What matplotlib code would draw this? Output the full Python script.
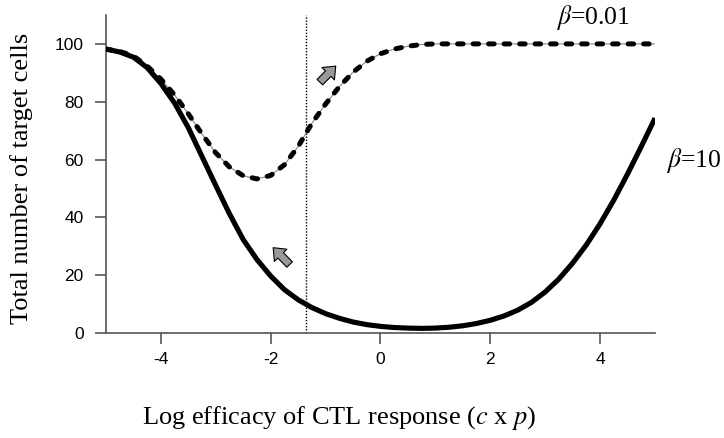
import numpy as np
import matplotlib
matplotlib.use('Agg')
from matplotlib import pyplot as plt
from matplotlib.patches import FancyArrowPatch, ArrowStyle

# log efficacy of the CTL response, log10(c x p)
log_eff = [-5.0, -4.75, -4.5, -4.25, -4.0, -3.75, -3.5, -3.25, -3.0, -2.75,
           -2.5, -2.25, -2.0, -1.75, -1.5, -1.25, -1.0, -0.75, -0.5, -0.25,
           0.0, 0.25, 0.5, 0.75, 1.0, 1.25, 1.5, 1.75, 2.0, 2.25,
           2.5, 2.75, 3.0, 3.25, 3.5, 3.75, 4.0, 4.25, 4.5, 4.75, 5.0]

# total target cells, beta = 10
cells_b10 = [98.2, 97.2, 95.4, 91.8, 86.3, 79.5, 71.0, 61.0, 51.0, 41.2,
             32.3, 25.4, 19.7, 15.0, 11.5, 8.8, 6.7, 5.1, 3.8, 2.9,
             2.3, 1.9, 1.7, 1.6, 1.7, 2.0, 2.5, 3.3, 4.4, 5.9,
             7.9, 10.6, 14.2, 18.7, 24.2, 30.5, 37.8, 46.0, 55.0, 64.5, 74.3]

# total target cells, beta = 0.01
cells_b001 = [98.2, 97.4, 95.8, 92.3, 87.8, 82.3, 75.8, 68.8, 62.3, 57.4,
              54.4, 53.3, 54.5, 58.2, 64.5, 72.5, 79.2, 85.2, 90.2, 94.0,
              96.6, 98.2, 99.2, 99.8, 100.0, 100.0, 100.0, 100.0, 100.0, 100.0,
              100.0, 100.0, 100.0, 100.0, 100.0, 100.0, 100.0, 100.0, 100.0, 100.0, 100.0]

x_marker = -1.35
y_ticks = [0, 20, 40, 60, 80, 100]
x_ticks = [-4, -2, 0, 2, 4]

plt.rcParams['mathtext.fontset'] = 'stix'
plt.rcParams['axes.unicode_minus'] = False
serif = 'Liberation Serif'
sans = 'Liberation Sans'
spine_col = '#555555'

fig = plt.figure(figsize=(7.24, 4.38), dpi=100)
ax = fig.add_axes([0.1464, 0.2397, 0.7583, 0.7261])

# kurva beta = 10
ax.plot(log_eff, cells_b10, color='black', lw=3.7, solid_capstyle='butt',
        solid_joinstyle='round', zorder=3)

# kurva beta = 0.01: garis tipis abu-abu + putus-putus tebal
ax.plot(log_eff, cells_b001, color='#888888', lw=0.8, zorder=2)
ax.plot(log_eff, cells_b001, color='black', lw=3.6, dashes=(1.1, 2.0),
        dash_capstyle='round', zorder=3)

ax.axvline(x_marker, color='black', lw=1.0, ls=(0, (1, 1.2)), zorder=1)

# panah abu-abu
for tail, head in [((-1.14, 86.1), (-0.78, 93.0)), ((-1.62, 23.0), (-1.99, 30.2))]:
    arr = FancyArrowPatch(tail, head,
                          arrowstyle=ArrowStyle.Simple(head_length=0.55, head_width=0.9, tail_width=0.4),
                          mutation_scale=14, fc='#999999', ec='black', lw=0.8, zorder=4)
    ax.add_patch(arr)

ax.set_xlim(-5, 5)
ax.set_ylim(0, 110)
ax.set_xticks(x_ticks)
ax.set_yticks(y_ticks)
for s in ['top', 'right']:
    ax.spines[s].set_visible(False)
for s in ['left', 'bottom']:
    ax.spines[s].set_color(spine_col)
    ax.spines[s].set_linewidth(1.2)
ax.tick_params(direction='out', length=8, width=1.2, color=spine_col, labelsize=12.5)
ax.tick_params(axis='y', pad=8)
ax.tick_params(axis='x', pad=6)
for lab in ax.get_xticklabels() + ax.get_yticklabels():
    lab.set_family(sans)

ax.text(3.2, 109.0, r'$\beta$=0.01', family=serif, fontsize=18.5, ha='left', va='center', clip_on=False)
ax.text(5.2, 59.5, r'$\beta$=10', family=serif, fontsize=18.5, ha='left', va='center', clip_on=False)

fig.text(22 / 724, 1 - 178 / 438, 'Total number of target cells', family=serif, fontsize=19,
         rotation=90, ha='center', va='center')
fig.text(339.5 / 724, 1 - 418 / 438, r'Log efficacy of CTL response ($c$ x $p$)',
         family=serif, fontsize=19, ha='center', va='center')

fig.savefig('out.png', dpi=100)
